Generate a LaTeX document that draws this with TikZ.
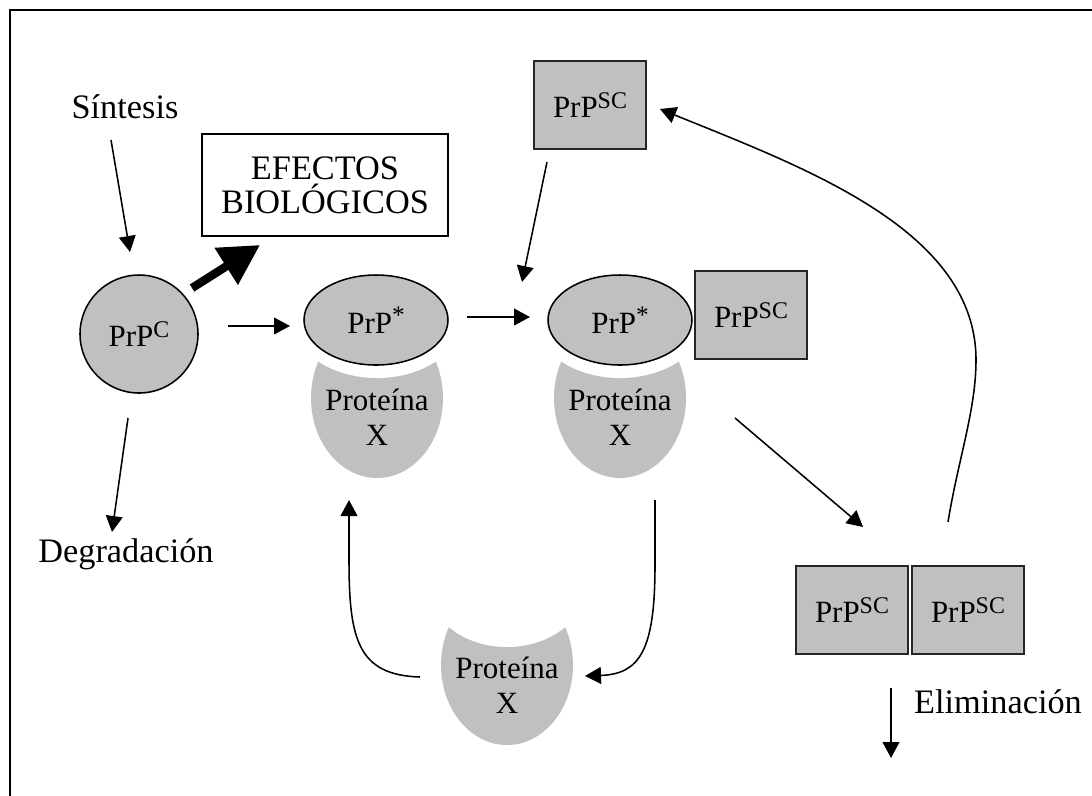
\documentclass[tikz,border=0pt]{standalone}
\usepackage{fontspec}
\setmainfont{Liberation Serif}
\usetikzlibrary{arrows.meta,shapes.geometric}
\definecolor{prion}{RGB}{192,192,192}
\newcommand{\prpsc}{PrP\raisebox{3.5pt}{\fontsize{8.5}{8.5}\selectfont SC}}
\newcommand{\prpcel}{PrP\raisebox{3.5pt}{\fontsize{8.5}{8.5}\selectfont C}}
\newcommand{\prpstar}{PrP\raisebox{3.5pt}{\fontsize{9}{9}\selectfont *}}

\begin{document}
\begin{tikzpicture}[x=0.125mm,y=-0.125mm,
  big/.style={font=\fontsize{12.2}{12}\selectfont},
  lab/.style={font=\fontsize{11}{12.5}\selectfont},
  arr/.style={line width=0.55pt,-{Triangle[length=2mm,width=2.1mm]}},
  scbox/.style={draw=black!85,line width=0.7pt,fill=prion,minimum width=13.9mm,minimum height=11.1mm,inner sep=0pt,lab},
  star/.style={ellipse,draw,line width=0.55pt,fill=prion,minimum width=18mm,minimum height=11.25mm,inner sep=0pt,lab}]
\clip (0,0) rectangle (1092,795);
\draw[line width=0.9pt] (10,10) rectangle (1110,810);
% proteina X
\fill[prion] (377,398) ellipse (66 and 80);
\fill[prion] (620,398) ellipse (66 and 80);
\fill[prion] (507,665) ellipse (66 and 80);
\fill[white] (377,320) ellipse (84 and 58);
\fill[white] (620,320) ellipse (84 and 58);
\fill[white] (507,587) ellipse (78 and 60);
\node[big,anchor=base] at (125,118) (sint) {Síntesis};
\node[circle,draw,line width=0.55pt,fill=prion,minimum size=14.75mm,inner sep=0pt,lab] at (139,334) (prpc) {\prpcel};
\node[draw,line width=0.6pt,minimum width=30.75mm,minimum height=12.75mm,align=center,big] at (325,185) (efectos) {EFECTOS\\BIOLÓGICOS};
\node[star] at (376,320) (prp1) {\prpstar};
\node[star] at (620,320) (prp2) {\prpstar};
\node[scbox] at (590,105) (sc1) {\prpsc};
\node[scbox] at (751,315) (sc2) {\prpsc};
\node[scbox] at (852,610) (sc3) {\prpsc};
\node[scbox] at (968,610) (sc4) {\prpsc};
\node[lab,align=center] at (377,417) (px1) {Proteína\\X};
\node[lab,align=center] at (620,417) (px2) {Proteína\\X};
\node[lab,align=center] at (507,685) (px3) {Proteína\\X};
\node[big,anchor=base] at (126,562) (degr) {Degradación};
\node[big,anchor=base] at (998,713) (elim) {Eliminación};
% arrow ends
\coordinate (sint-a) at (111,140); \coordinate (prpc-a) at (130,252);
\coordinate (prpc-b) at (128,418); \coordinate (degr-a) at (112,532);
\coordinate (prpc-c) at (192,288); \coordinate (efectos-a) at (260,245);
\coordinate (prpc-d) at (228,326); \coordinate (prp1-a) at (290,326);
\coordinate (prp1-b) at (467,317); \coordinate (prp2-a) at (530,317);
\coordinate (sc1-a) at (547,162); \coordinate (prp2-b) at (522,282);
\coordinate (px2-a) at (735,418); \coordinate (sc3-a) at (863,527);
\coordinate (sc4-a) at (948,522); \coordinate (sc1-b) at (660,109);
\coordinate (px2-b) at (655,500); \coordinate (px3-a) at (585,676);
\coordinate (px3-b) at (420,677); \coordinate (px1-a) at (349,500);
\coordinate (elim-a) at (891,688); \coordinate (elim-b) at (891,758);
\draw[arr] (sint-a) -- (prpc-a);
\draw[arr] (prpc-b) -- (degr-a);
\draw[line width=1.05mm,-{Triangle[length=5mm,width=5.2mm]}] (prpc-c) -- (efectos-a);
\draw[arr] (prpc-d) -- (prp1-a);
\draw[arr] (prp1-b) -- (prp2-a);
\draw[arr] (sc1-a) -- (prp2-b);
\draw[arr] (px2-a) -- (sc3-a);
\draw[arr] (sc4-a) .. controls (958,460) and (976,410) .. (976,360) .. controls (976,230) and (805,168) .. (sc1-b);
\draw[arr] (px2-b) -- (655,565) .. controls (655,650) and (640,674) .. (px3-a);
\draw[arr] (px3-b) .. controls (358,675) and (349,640) .. (349,560) -- (px1-a);
\draw[arr] (elim-a) -- (elim-b);
\end{tikzpicture}
\end{document}
